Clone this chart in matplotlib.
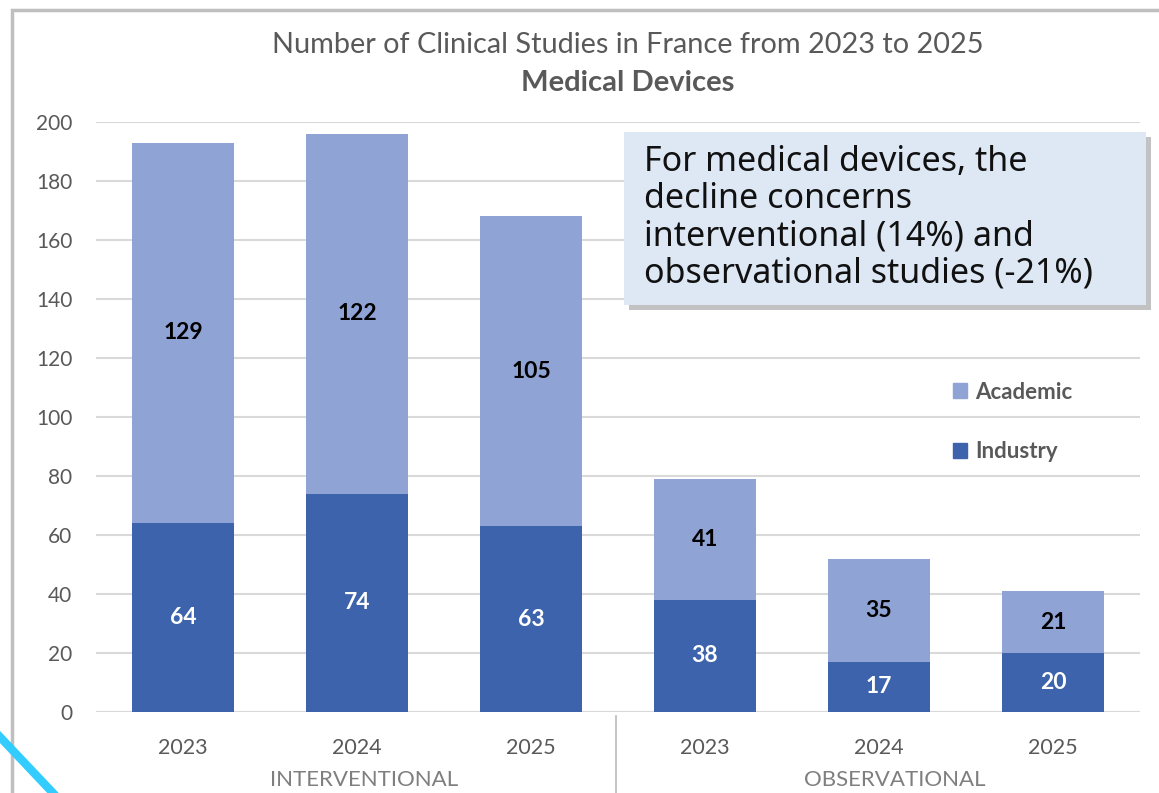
import matplotlib.pyplot as plt
from matplotlib.patches import Rectangle, Patch
from matplotlib.lines import Line2D
import numpy as np

# data
years = ["2023", "2024", "2025", "2023", "2024", "2025"]
groups = ["INTERVENTIONAL", "OBSERVATIONAL"]
industry = [64, 74, 63, 38, 17, 20]
academic = [129, 122, 105, 41, 35, 21]

c_acad = "#8FA3D5"
c_ind = "#3C63AC"
grey = "#595959"

plt.rcParams["font.family"] = ["Lato", "DejaVu Sans"]

fig = plt.figure(figsize=(11.59, 7.93), dpi=100)
W, H = 1159, 793
ax = fig.add_axes([96 / W, 1 - 712 / H, (1140 - 96) / W, (712 - 122) / H])

x = np.arange(len(years))
bw = 0.59
ax.bar(x, industry, bw, color=c_ind, zorder=3, label="Industry")
ax.bar(x, academic, bw, bottom=industry, color=c_acad, zorder=3, label="Academic")

for i in range(len(x)):
    ax.text(x[i], industry[i] / 2, str(industry[i]), ha="center", va="center",
            color="white", fontsize=16.5, fontweight="bold", zorder=4)
    ax.text(x[i], industry[i] + academic[i] / 2, str(academic[i]), ha="center", va="center",
            color="black", fontsize=16.5, fontweight="bold", zorder=4)

ax.set_xlim(-0.5, 5.5)
ax.set_ylim(0, 200)
ax.set_yticks(range(0, 201, 20))
ax.yaxis.grid(True, color="#D9D9D9", linewidth=1.5, zorder=0)
for s in ax.spines.values():
    s.set_visible(False)
ax.tick_params(axis="y", length=0, pad=17, labelsize=15, labelcolor=grey)
ax.set_xticks(x)
ax.set_xticklabels(years)
ax.tick_params(axis="x", length=0, pad=19, labelsize=15.5, labelcolor=grey)
ax.axhline(0, color="#D9D9D9", linewidth=1.5, zorder=2)

# group labels and separator
ax.text(1.04, -68 / 590, groups[0], transform=ax.get_xaxis_transform(), ha="center",
        va="center", fontsize=16, color="#7F7F7F", clip_on=False)
ax.text(4.09, -68 / 590, groups[1], transform=ax.get_xaxis_transform(), ha="center",
        va="center", fontsize=16, color="#7F7F7F", clip_on=False)
fig.add_artist(Line2D([616 / W, 616 / W], [0, 1 - 716 / H], color="#BFBFBF", lw=1.3))

# titles
fig.text(628 / W, 1 - 45 / H, "Number of Clinical Studies in France from 2023 to 2025",
         ha="center", va="center", fontsize=20.8, color=grey)
fig.text(628 / W, 1 - 83 / H, "Medical Devices", ha="center", va="center",
         fontsize=21, color=grey, fontweight="bold")

# legend
handles = [Patch(color=c_acad), Patch(color=c_ind)]
fig.legend(handles, ["Academic", "Industry"], loc="center left",
           bbox_to_anchor=(933 / W, 1 - 422 / H), frameon=False, handlelength=0.65,
           handleheight=0.65, handletextpad=0.35, labelspacing=1.75,
           prop={"size": 16, "weight": "bold"}, labelcolor=grey)

# annotation box with shadow
bx0, by0, bx1, by1 = 624, 132, 1146, 305
fig.add_artist(Rectangle(((bx0 + 5) / W, 1 - (by1 + 5) / H), (bx1 - bx0) / W, (by1 - by0) / H,
                         facecolor="#9A9A9A", edgecolor="none", alpha=0.6, zorder=5))
fig.add_artist(Rectangle((bx0 / W, 1 - by1 / H), (bx1 - bx0) / W, (by1 - by0) / H,
                         facecolor="#DDE8F4", edgecolor="none", zorder=6))
fig.text(644 / W, 1 - 218 / H,
         "For medical devices, the\ndecline concerns\ninterventional (14%) and\nobservational studies (-21%)",
         ha="left", va="center", fontsize=24.5, color="#111111", linespacing=1.12, zorder=7,
         family=["Noto Sans", "DejaVu Sans"])

# chart border
fig.add_artist(Rectangle((12 / W, -0.05), 1.2, 1 - 10 / H + 0.05, fill=False,
                         edgecolor="#BFBFBF", lw=2.5, zorder=1))
# decorative diagonal stroke
fig.add_artist(Line2D([0, 53 / W], [1 - 737 / H, 0], color="#33CCFF", lw=6, zorder=8))

fig.savefig("out.png", dpi=100)
